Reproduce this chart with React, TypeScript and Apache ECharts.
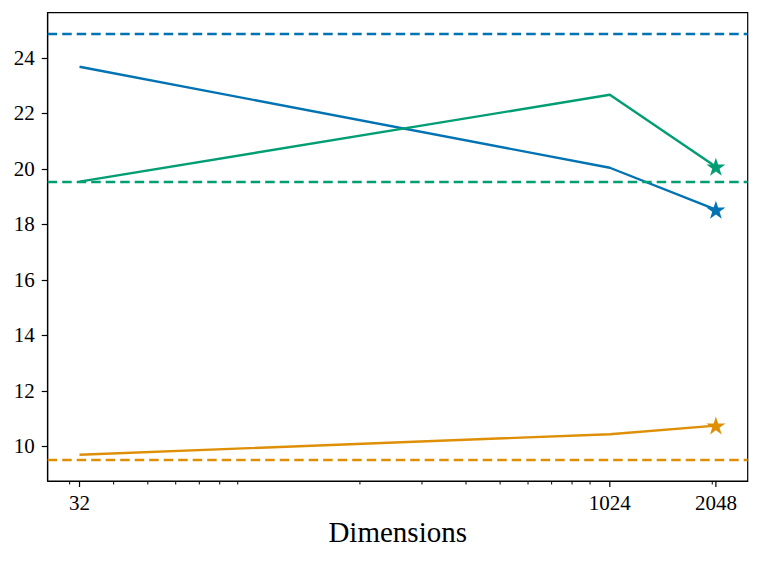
import React, { useEffect, useRef } from "react";
import * as echarts from "echarts";

const X_VALUES = [32, 1024, 2048];
const SERIES_BLUE = [23.68, 20.04, 18.53];
const SERIES_GREEN = [19.54, 22.67, 20.08];
const SERIES_ORANGE = [9.7, 10.44, 10.75];
const BASELINES = [24.86, 19.54, 9.52];
const COLORS = ["#0173B2", "#029E73", "#DE8F05"];
const X_TICKS = [32, 1024, 2048];
const X_MINOR_TICKS = [30, 40, 50, 60, 70, 80, 90, 200, 300, 400, 500, 600, 700, 800, 900, 2000];
const Y_TICKS = [10, 12, 14, 16, 18, 20, 22, 24];
const X_NAME = "Dimensions";

const STAR = "path://M50,0 L61.2,34.5 L97.6,34.5 L68.2,55.9 L79.4,90.5 L50,69.1 L20.6,90.5 L31.8,55.9 L2.4,34.5 L38.8,34.5 Z";
const FONT = "Liberation Serif";

export default function App() {
  const ref = useRef<HTMLDivElement>(null);
  useEffect(() => {
    if (!ref.current) return;
    const chart = echarts.init(ref.current, null, { renderer: "svg" });
    const xMin = Math.pow(2, 4.7);
    const xMax = Math.pow(2, 11.3);
    const allY = [...SERIES_BLUE, ...SERIES_GREEN, ...SERIES_ORANGE, ...BASELINES];
    const lo = Math.min(...allY);
    const hi = Math.max(...allY);
    const yMin = lo - (hi - lo) * 0.05;
    const yMax = hi + (hi - lo) * 0.05;
    const last = X_VALUES.length - 1;
    const mk = (vals: number[], color: string, base: number) => ({
      type: "line",
      data: X_VALUES.map((x, i) => [x, vals[i]]),
      symbol: (_v: any, p: any) => (p.dataIndex === last ? STAR : "none"),
      symbolSize: [19, 18],
      showAllSymbol: true,
      lineStyle: { color, width: 2.4 },
      itemStyle: { color },
      emphasis: { disabled: true },
      silent: true,
      z: 3,
      markLine: {
        silent: true,
        symbol: ["none", "none"],
        label: { show: false },
        emphasis: { disabled: true },
        lineStyle: { color, type: [9.5, 5], width: 2.4 },
        data: [{ yAxis: base }],
      },
    });
    chart.setOption({
      animation: false,
      textStyle: { fontFamily: FONT },
      grid: {
        left: 47.7,
        right: 13.3,
        top: 12.7,
        bottom: 80,
        show: true,
        borderColor: "#000",
        borderWidth: 1.2,
        backgroundColor: "transparent",
      },
      xAxis: {
        type: "log",
        logBase: 2,
        min: xMin,
        max: xMax,
        axisLine: { show: true, lineStyle: { color: "#000", width: 1.2 } },
        axisTick: { show: false },
        axisLabel: { show: false },
        splitLine: { show: false },
        minorTick: { show: false },
      },
      yAxis: {
        type: "value",
        min: yMin,
        max: yMax,
        axisLine: { show: true, lineStyle: { color: "#000", width: 1.2 } },
        axisTick: { show: true, customValues: Y_TICKS, length: 6, lineStyle: { color: "#000", width: 1.2 } },
        axisLabel: { show: false },
        splitLine: { show: false },
      },
      series: [
        mk(SERIES_BLUE, COLORS[0], BASELINES[0]),
        mk(SERIES_GREEN, COLORS[1], BASELINES[1]),
        mk(SERIES_ORANGE, COLORS[2], BASELINES[2]),
      ],
    });

    const yb = chart.convertToPixel({ yAxisIndex: 0 }, yMin) as number;
    const xl = chart.convertToPixel({ xAxisIndex: 0 }, xMin) as number;
    const xr = chart.convertToPixel({ xAxisIndex: 0 }, xMax) as number;
    const txt = (text: string, x: number, y: number, size: number, align: string) => ({
      type: "text",
      x,
      y,
      silent: true,
      style: {
        text,
        fontSize: size,
        fontFamily: FONT,
        fill: "#000",
        align,
        verticalAlign: "middle",
        textAlign: align,
        textVerticalAlign: "middle",
      },
    });
    const elements: any[] = [];
    X_MINOR_TICKS.forEach((v) => {
      const px = chart.convertToPixel({ xAxisIndex: 0 }, v) as number;
      elements.push({
        type: "line",
        shape: { x1: px, y1: yb, x2: px, y2: yb + 3.5 },
        style: { stroke: "#000", lineWidth: 1 },
        silent: true,
      });
    });
    X_TICKS.forEach((v) => {
      const px = chart.convertToPixel({ xAxisIndex: 0 }, v) as number;
      elements.push({
        type: "line",
        shape: { x1: px, y1: yb, x2: px, y2: yb + 6 },
        style: { stroke: "#000", lineWidth: 1.2 },
        silent: true,
      });
      elements.push(txt(String(v), px, yb + 21.5, 21, "center"));
    });
    Y_TICKS.forEach((v) => {
      const py = chart.convertToPixel({ yAxisIndex: 0 }, v) as number;
      elements.push(txt(String(v), xl - 13, py, 21, "right"));
    });
    elements.push(txt(X_NAME, (xl + xr) / 2, yb + 51, 29, "center"));
    chart.setOption({ graphic: { elements } });
    return () => chart.dispose();
  }, []);
  return (
    <div
      ref={ref}
      style={{ position: "fixed", left: 0, top: 0, width: 761, height: 561, background: "#fff" }}
    />
  );
}
